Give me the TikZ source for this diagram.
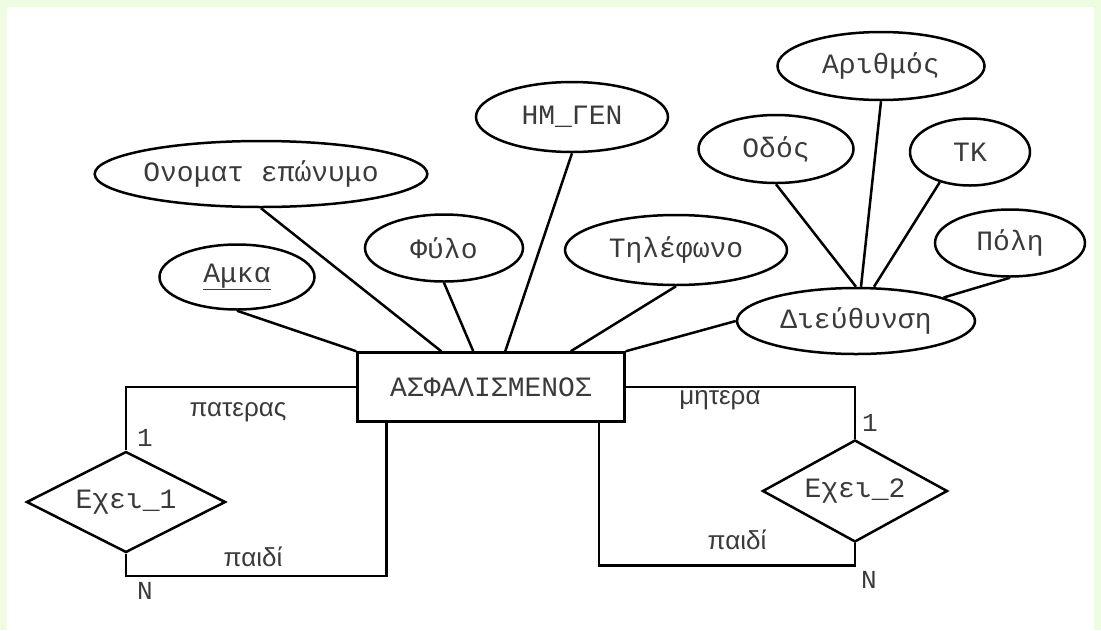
\documentclass[tikz,border=0pt]{standalone}
\usepackage{fontspec}
\setmainfont{Liberation Sans}
\newfontfamily\erfont{Liberation Mono}
\usetikzlibrary{shapes.geometric}
\definecolor{bggreen}{RGB}{238,253,226}
\definecolor{ink}{RGB}{58,58,58}

\begin{document}
\begin{tikzpicture}[x=1pt,y=-1pt,line width=2.5pt,
attr/.style={draw,ellipse,inner sep=0pt,text=ink,font=\erfont\fontsize{28}{32}\selectfont},
entity/.style={draw,rectangle,inner sep=0pt,minimum width=267pt,minimum height=69pt,text=ink,font=\erfont\fontsize{28}{32}\selectfont},
rel/.style={draw,diamond,aspect=2,inner sep=0pt,text=ink,font=\erfont\fontsize{28}{32}\selectfont},
role/.style={text=ink,font=\fontsize{26}{30}\selectfont},
card/.style={text=ink,font=\erfont\fontsize{26}{30}\selectfont}]
\fill[bggreen] (0,0) rectangle (1101,630);
\fill[white] (7,7) rectangle (1094,630);
\useasboundingbox (0,0) rectangle (1101,630);

% entity and attributes
\node[entity] (asf) at (491,387) {ΑΣΦΑΛΙΣΜΕΝΟΣ};
\node[attr,minimum width=155pt,minimum height=65pt] (amka) at (237,277) {\underline{Αμκα}};
\node[attr,minimum width=328pt,minimum height=66pt] (onoma) at (261,174) {Ονοματ επώνυμο};
\node[attr,minimum width=158pt,minimum height=67pt] (fylo) at (444,248) {Φύλο};
\node[attr,minimum width=192pt,minimum height=70pt] (hmgen) at (572,117) {ΗΜ\_ΓΕΝ};
\node[attr,minimum width=222pt,minimum height=70pt] (tilef) at (676,250) {Τηλέφωνο};
\node[attr,minimum width=238pt,minimum height=66pt] (dieuth) at (856,321) {Διεύθυνση};
\node[attr,minimum width=155pt,minimum height=68pt] (odos) at (776,149) {Οδός};
\node[attr,minimum width=207pt,minimum height=68pt] (arithmos) at (881,66) {Αριθμός};
\node[attr,minimum width=120pt,minimum height=67pt] (tk) at (970,152) {ΤΚ};
\node[attr,minimum width=150pt,minimum height=67pt] (poli) at (1010,243) {Πόλη};

\draw (amka.south) -- (asf.north west);
\draw (onoma.south) -- ([xshift=85pt]asf.north west);
\draw (fylo.south) -- ([xshift=117pt]asf.north west);
\draw (hmgen.south) -- ([xshift=149pt]asf.north west);
\draw (tilef.south) -- ([xshift=-55pt]asf.north east);
\draw (dieuth.west) -- (asf.north east);
\draw (odos.south) -- (dieuth.north);
\draw (arithmos.south) -- ([xshift=5pt]dieuth.north);
\draw (tk.225) -- ([xshift=18pt]dieuth.north);
\draw (poli.south) -- (dieuth.15);

% recursive relationships
\node[rel,minimum width=199pt,minimum height=101pt] (exei1) at (126,502) {Εχει\_1};
\node[rel,minimum width=185pt,minimum height=102pt] (exei2) at (855,491) {Εχει\_2};
\draw (asf.west) -| (exei1.north);
\draw (exei1.south) -- ++(0,22) -| ([xshift=30pt]asf.south west);
\draw (asf.east) -| (exei2.north);
\draw (exei2.south) -- ++(0,22) -| ([xshift=-27pt]asf.south east);

\node[role] (pateras) at (238,412) {πατερας};
\node[card] (one1) at (145,438) {1};
\node[role] (paidi1) at (253,557) {παιδί};
\node[card] (many1) at (145,591) {N};
\node[role] (mitera) at (720,400) {μητερα};
\node[card] (one2) at (870,423) {1};
\node[role] (paidi2) at (737,540) {παιδί};
\node[card] (many2) at (869,580) {N};
\end{tikzpicture}
\end{document}
